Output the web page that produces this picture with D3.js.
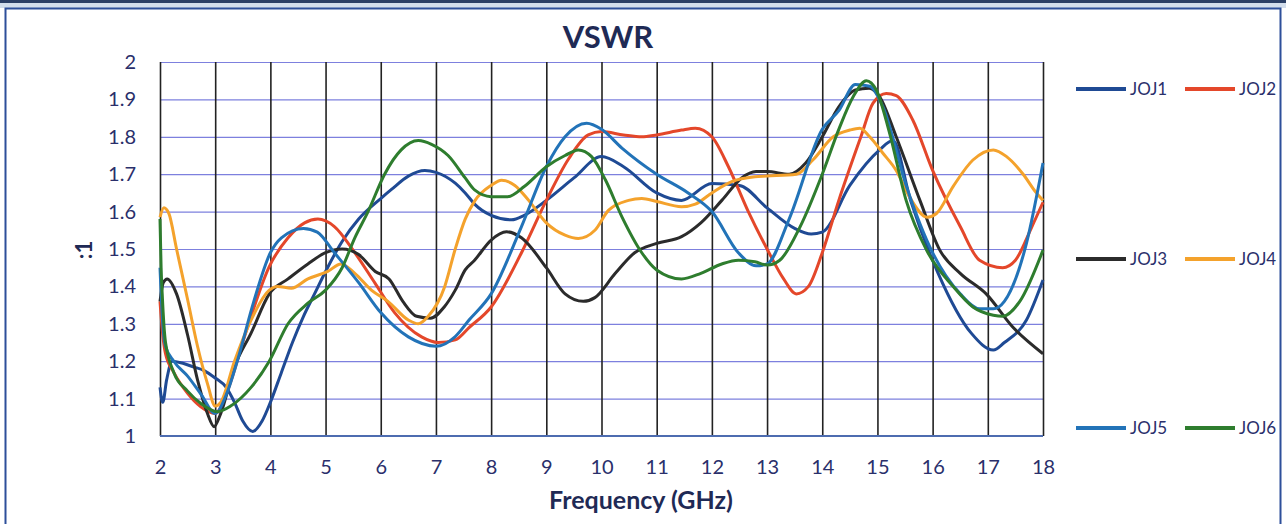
<!DOCTYPE html>
<html>
<head>
<meta charset="utf-8">
<script src="https://cdn.jsdelivr.net/npm/d3@7"></script>
<style>
  body { margin: 0; background: #fff; }
  svg { display: block; font-family: Lato, "Open Sans", sans-serif; }
</style>
</head>
<body>
<div id="chart"></div>
<script>
// frequency (GHz) / VSWR pairs
var joj1 = [[2.00,1.13],[2.05,1.09],[2.12,1.15],[2.22,1.20],[2.4,1.195],[2.6,1.185],[2.8,1.175],[3.0,1.155],[3.2,1.13],[3.35,1.09],[3.5,1.04],[3.68,1.012],[3.85,1.04],[4.0,1.09],[4.2,1.17],[4.4,1.25],[4.6,1.32],[4.8,1.38],[5.0,1.44],[5.3,1.52],[5.6,1.58],[6.0,1.635],[6.2,1.66],[6.5,1.695],[6.8,1.71],[7.0,1.705],[7.35,1.676],[7.53,1.65],[7.7,1.62],[8.0,1.59],[8.37,1.578],[8.6,1.59],[9.0,1.63],[9.5,1.69],[10.0,1.747],[10.4,1.72],[11.0,1.65],[11.45,1.63],[12.0,1.675],[12.5,1.67],[13.0,1.61],[13.5,1.555],[13.8,1.54],[14.0,1.545],[14.5,1.67],[15.04,1.765],[15.28,1.79],[15.6,1.63],[16.1,1.435],[16.7,1.275],[17.1,1.23],[17.3,1.25],[17.7,1.31],[18.0,1.417]];
var joj2 = [[2.0,1.36],[2.05,1.27],[2.1,1.22],[2.25,1.17],[2.5,1.114],[2.74,1.078],[3.0,1.06],[3.22,1.12],[3.53,1.265],[3.98,1.453],[4.32,1.53],[4.62,1.57],[4.86,1.58],[5.16,1.56],[5.53,1.49],[5.89,1.41],[6.25,1.33],[6.74,1.265],[7.04,1.25],[7.35,1.257],[7.6,1.29],[8.0,1.345],[8.55,1.49],[9.0,1.63],[9.4,1.74],[9.76,1.805],[10.0,1.814],[10.4,1.805],[10.73,1.80],[11.0,1.805],[11.45,1.818],[11.7,1.823],[12.0,1.80],[12.3,1.72],[12.66,1.60],[13.0,1.50],[13.3,1.42],[13.53,1.38],[13.75,1.40],[14.0,1.49],[14.3,1.63],[14.7,1.80],[14.92,1.89],[15.16,1.916],[15.34,1.91],[15.64,1.845],[16.0,1.71],[16.5,1.56],[16.85,1.47],[17.27,1.45],[17.5,1.47],[17.8,1.56],[18.0,1.625]];
var joj3 = [[2.0,1.36],[2.06,1.41],[2.13,1.42],[2.3,1.38],[2.5,1.27],[2.68,1.15],[2.86,1.06],[2.98,1.025],[3.1,1.06],[3.35,1.185],[3.65,1.275],[3.98,1.38],[4.32,1.42],[4.68,1.46],[5.0,1.49],[5.3,1.50],[5.6,1.485],[5.9,1.44],[6.15,1.42],[6.4,1.36],[6.65,1.32],[6.9,1.315],[7.15,1.345],[7.35,1.39],[7.53,1.444],[7.7,1.47],[8.0,1.524],[8.28,1.546],[8.55,1.53],[9.0,1.45],[9.34,1.38],[9.67,1.36],[9.88,1.37],[10.25,1.435],[10.6,1.49],[11.0,1.515],[11.45,1.533],[11.8,1.57],[12.18,1.63],[12.54,1.69],[12.8,1.707],[13.0,1.707],[13.4,1.70],[13.7,1.73],[14.0,1.80],[14.3,1.88],[14.6,1.925],[14.85,1.93],[15.04,1.907],[15.34,1.80],[15.77,1.63],[16.13,1.497],[16.5,1.435],[16.97,1.38],[17.46,1.29],[18.0,1.22]];
var joj4 = [[2.0,1.585],[2.07,1.61],[2.16,1.595],[2.3,1.50],[2.5,1.365],[2.68,1.24],[2.86,1.14],[3.0,1.08],[3.1,1.09],[3.35,1.20],[3.65,1.31],[3.98,1.39],[4.13,1.40],[4.38,1.395],[4.68,1.42],[5.04,1.44],[5.28,1.46],[5.53,1.435],[5.83,1.39],[6.13,1.36],[6.5,1.31],[6.68,1.30],[6.86,1.32],[7.16,1.40],[7.35,1.50],[7.53,1.58],[7.71,1.63],[8.0,1.67],[8.19,1.684],[8.43,1.67],[8.68,1.63],[9.0,1.57],[9.34,1.537],[9.58,1.528],[9.88,1.55],[10.13,1.604],[10.49,1.63],[10.73,1.635],[11.0,1.627],[11.45,1.613],[11.7,1.62],[12.0,1.65],[12.36,1.68],[12.78,1.693],[13.0,1.695],[13.53,1.70],[13.83,1.738],[14.2,1.80],[14.5,1.818],[14.68,1.823],[14.86,1.80],[15.1,1.756],[15.34,1.71],[15.58,1.64],[15.9,1.585],[16.07,1.595],[16.37,1.667],[16.73,1.738],[17.1,1.765],[17.34,1.747],[17.64,1.70],[17.88,1.65],[18.0,1.63]];
var joj5 = [[2.0,1.45],[2.05,1.30],[2.1,1.24],[2.25,1.20],[2.5,1.16],[2.75,1.11],[3.0,1.06],[3.2,1.11],[3.4,1.20],[3.7,1.36],[4.0,1.49],[4.2,1.53],[4.6,1.555],[4.85,1.545],[5.16,1.49],[5.6,1.41],[6.0,1.33],[6.5,1.265],[7.0,1.24],[7.35,1.266],[7.6,1.31],[8.0,1.38],[8.55,1.56],[9.0,1.72],[9.34,1.80],[9.73,1.836],[10.0,1.82],[10.37,1.77],[11.0,1.70],[11.57,1.65],[12.0,1.60],[12.48,1.49],[12.8,1.455],[13.0,1.46],[13.4,1.58],[14.0,1.82],[14.3,1.87],[14.6,1.94],[14.86,1.935],[15.1,1.88],[15.52,1.67],[16.0,1.49],[16.5,1.38],[16.85,1.34],[17.1,1.34],[17.3,1.36],[17.7,1.515],[18.0,1.73]];
var joj6 = [[2.0,1.58],[2.02,1.45],[2.04,1.38],[2.1,1.25],[2.25,1.17],[2.5,1.12],[2.74,1.087],[3.04,1.065],[3.28,1.08],[3.65,1.13],[3.98,1.20],[4.32,1.30],[4.68,1.355],[5.0,1.39],[5.3,1.45],[5.53,1.53],[5.77,1.60],[6.07,1.70],[6.37,1.765],[6.68,1.79],[6.92,1.78],[7.22,1.75],[7.53,1.69],[7.7,1.658],[8.0,1.64],[8.3,1.64],[8.6,1.667],[9.0,1.72],[9.34,1.75],[9.58,1.765],[9.82,1.747],[10.07,1.685],[10.37,1.586],[10.73,1.49],[11.0,1.444],[11.45,1.42],[11.8,1.435],[12.18,1.46],[12.48,1.47],[12.78,1.466],[13.0,1.457],[13.23,1.47],[13.6,1.56],[14.0,1.70],[14.3,1.82],[14.56,1.907],[14.8,1.95],[14.98,1.925],[15.22,1.81],[15.52,1.63],[15.89,1.497],[16.37,1.40],[16.73,1.345],[17.1,1.323],[17.27,1.32],[17.58,1.36],[18.0,1.497]];

var seriesNames = ["JOJ1", "JOJ2", "JOJ3", "JOJ4", "JOJ5", "JOJ6"];
var seriesData = [joj1, joj2, joj3, joj4, joj5, joj6];
var colors = ["#1f4a94", "#e4472a", "#2b2b2b", "#f4a22c", "#2273b8", "#2e7d2e"];
var xTicks = d3.range(2, 19, 1);
var yTicks = d3.range(10, 21, 1).map(function (d) { return d / 10; });

var W = 1286, H = 524;
var margin = { top: 62, right: 243, bottom: 88, left: 160 },
  width = W - margin.left - margin.right,
  height = H - margin.top - margin.bottom;

var x = d3.scaleLinear().domain([2, 18]).range([0, width]);
var y = d3.scaleLinear().domain([1, 2]).range([height, 0]);

var svg = d3.select("#chart").append("svg")
  .attr("width", W)
  .attr("height", H);

// scanned page frame
svg.append("rect").attr("x", 0).attr("y", 0).attr("width", W).attr("height", 3).attr("fill", "#2b3f66");
svg.append("rect").attr("x", 0).attr("y", 3).attr("width", W).attr("height", 5).attr("fill", "#d3deec");
svg.append("path")
  .attr("d", "M5.5," + H + "V8.5H1280.5V" + H)
  .attr("fill", "none").attr("stroke", "#2d4f9a").attr("stroke-width", 2);

var g = svg.append("g").attr("transform", "translate(" + margin.left + "," + margin.top + ")");

// horizontal grid
g.append("g")
  .call(d3.axisLeft(y).tickValues(yTicks).tickSize(-width).tickFormat(""))
  .call(function (a) { a.select(".domain").remove(); })
  .selectAll("line").attr("stroke", "#7d80de").attr("stroke-width", 1.2);

// vertical grid
g.append("g")
  .attr("transform", "translate(0," + height + ")")
  .call(d3.axisBottom(x).tickValues(xTicks).tickSize(height).tickSizeInner(-height).tickFormat(""))
  .call(function (a) { a.select(".domain").remove(); })
  .selectAll("line").attr("stroke", "#222").attr("stroke-width", 1.6);

// bottom axis line
g.append("line").attr("x1", 0).attr("x2", width).attr("y1", height).attr("y2", height)
  .attr("stroke", "#4d6cb0").attr("stroke-width", 2);

// tick labels
var xAxis = g.append("g")
  .attr("transform", "translate(0," + height + ")")
  .call(d3.axisBottom(x).tickValues(xTicks).tickSize(0).tickPadding(24));
xAxis.select(".domain").remove();
xAxis.selectAll("text").attr("font-size", 20).attr("fill", "#2a2f6b").attr("font-family", "Lato, sans-serif");

var yAxis = g.append("g")
  .call(d3.axisLeft(y).tickValues(yTicks).tickSize(0).tickPadding(24)
    .tickFormat(function (d) { return d3.format(".1f")(d).replace(/\.0$/, ""); }));
yAxis.select(".domain").remove();
yAxis.selectAll("text").attr("font-size", 20).attr("fill", "#2a2f6b").attr("font-family", "Lato, sans-serif");

// the curves
var line = d3.line()
  .x(function (d) { return x(d[0]); })
  .y(function (d) { return y(d[1]); })
  .curve(d3.curveMonotoneX);

g.selectAll(".series")
  .data(seriesData)
  .enter().append("path")
  .attr("class", "series")
  .attr("d", line)
  .attr("fill", "none")
  .attr("stroke", function (d, i) { return colors[i]; })
  .attr("stroke-width", 3)
  .attr("stroke-linejoin", "round");

// title and axis titles
svg.append("text").attr("x", 608).attr("y", 48).attr("text-anchor", "middle")
  .attr("font-size", 31).attr("font-weight", "bold").attr("fill", "#1f2a55").text("VSWR");

svg.append("text").attr("x", 641).attr("y", 509).attr("text-anchor", "middle")
  .attr("font-size", 25).attr("font-weight", "bold").attr("fill", "#1f2a55").text("Frequency (GHz)");

svg.append("text").attr("transform", "translate(92,250) rotate(-90)").attr("text-anchor", "middle")
  .attr("font-size", 22).attr("font-weight", "bold").attr("fill", "#1f2a55").text(":1");

// legend, two per row
var legendRows = [89, 259, 428], legendCols = [1076, 1185];
var legend = svg.selectAll(".legend")
  .data(seriesNames)
  .enter().append("g")
  .attr("class", "legend")
  .attr("transform", function (d, i) {
    return "translate(" + legendCols[i % 2] + "," + legendRows[Math.floor(i / 2)] + ")";
  });
legend.append("line").attr("x1", 0).attr("x2", 50).attr("y1", 0).attr("y2", 0)
  .attr("stroke", function (d, i) { return colors[i]; }).attr("stroke-width", 4);
legend.append("text").attr("x", 54).attr("y", 0).attr("dy", "0.35em")
  .attr("font-size", 17).attr("fill", "#2a2f6b").text(function (d) { return d; });
</script>
</body>
</html>
